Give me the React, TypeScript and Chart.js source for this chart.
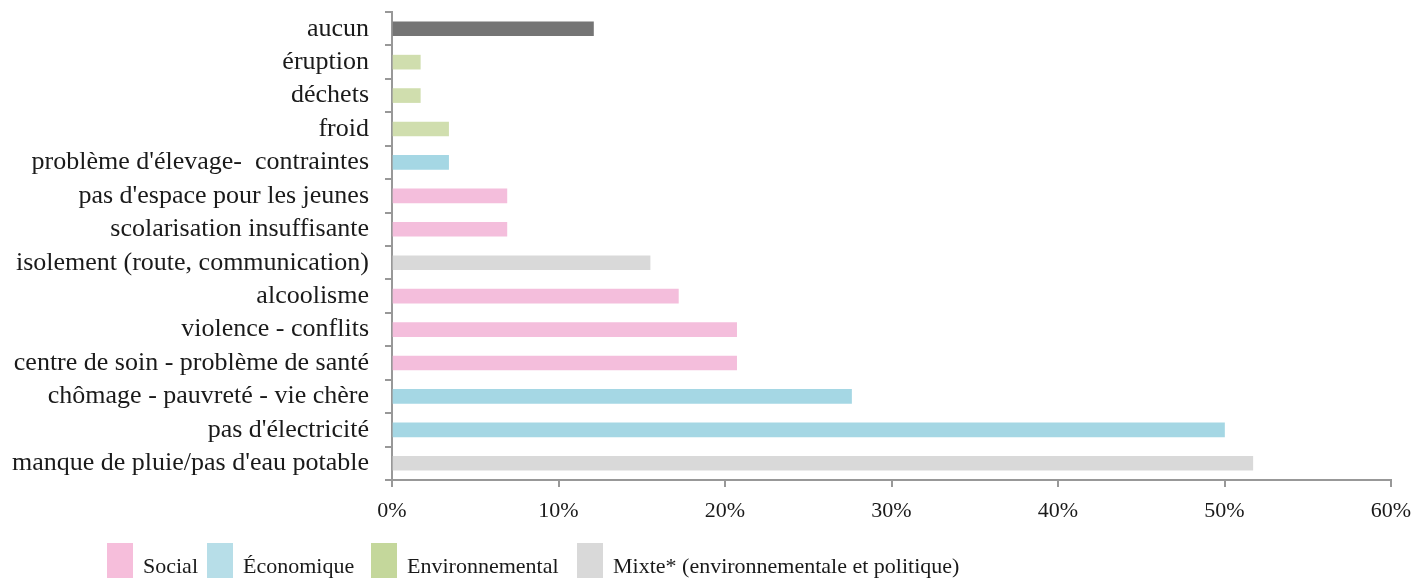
import React, { useEffect, useRef } from "react";
import { Chart, registerables } from "chart.js";

Chart.register(...registerables);

const categories = [
  "aucun",
  "éruption",
  "déchets",
  "froid",
  "problème d'élevage-  contraintes",
  "pas d'espace pour les jeunes",
  "scolarisation insuffisante",
  "isolement (route, communication)",
  "alcoolisme",
  "violence - conflits",
  "centre de soin - problème de santé",
  "chômage - pauvreté - vie chère",
  "pas d'électricité",
  "manque de pluie/pas d'eau potable",
];
const values = [12.1, 1.7, 1.7, 3.4, 3.4, 6.9, 6.9, 15.5, 17.2, 20.7, 20.7, 27.6, 50.0, 51.7];
const groups = ["none", "env", "env", "env", "eco", "soc", "soc", "mix", "soc", "soc", "soc", "eco", "eco", "mix"];
const xTicks = [0, 10, 20, 30, 40, 50, 60];
const legendLabels = ["Social", "Économique", "Environnemental", "Mixte* (environnementale et politique)"];
const legendKeys = ["soc", "eco", "env", "mix"];

const barColors: Record<string, string> = {
  soc: "#F4BEDC",
  eco: "#A5D7E4",
  env: "#D0DEAE",
  mix: "#D9D9D9",
  none: "#757575",
};
const legendColors: Record<string, string> = {
  soc: "#F6BEDB",
  eco: "#B7DEE8",
  env: "#C4D79B",
  mix: "#D9D9D9",
};

const FONT = "'Liberation Serif', 'DejaVu Serif', serif";
const legendBoxX = [107, 207, 371, 577];

const legendPlugin = {
  id: "customLegend",
  afterDraw(chart: any) {
    const ctx = chart.ctx;
    ctx.save();
    ctx.font = `22px ${FONT}`;
    ctx.textBaseline = "alphabetic";
    legendKeys.forEach((k, i) => {
      const x = legendBoxX[i];
      ctx.fillStyle = legendColors[k];
      ctx.fillRect(x, 543, 26, 40);
      ctx.fillStyle = "#1a1a1a";
      ctx.fillText(legendLabels[i], x + 36, 573);
    });
    ctx.restore();
  },
};

export default function App() {
  const ref = useRef<HTMLCanvasElement | null>(null);
  useEffect(() => {
    document.body.style.margin = "0";
    const chart = new Chart(ref.current!, {
      type: "bar",
      data: {
        labels: categories,
        datasets: [
          {
            data: values,
            backgroundColor: groups.map((g) => barColors[g]),
            barThickness: 14,
          },
        ],
      },
      options: {
        indexAxis: "y",
        animation: false,
        responsive: false,
        maintainAspectRatio: false,
        layout: { padding: { top: 12, right: 24, left: 0, bottom: 0 } },
        plugins: { legend: { display: false }, tooltip: { enabled: false } },
        scales: {
          x: {
            min: 0,
            max: 60,
            afterBuildTicks: (s: any) => {
              s.ticks = xTicks.map((v) => ({ value: v }));
            },
            afterFit: (s: any) => {
              s.height = 98;
              s.paddingLeft = 0;
              s.paddingRight = 0;
            },
            border: { color: "#989898", width: 2 },
            grid: { drawOnChartArea: false, color: "#989898", lineWidth: 2, tickLength: 7 },
            ticks: {
              callback: (v: any) => v + "%",
              color: "#1a1a1a",
              font: { family: FONT, size: 22 },
              padding: 11,
              maxRotation: 0,
            },
          },
          y: {
            afterFit: (s: any) => {
              s.width = 392;
              s.paddingTop = 0;
              s.paddingBottom = 0;
            },
            border: { color: "#989898", width: 2 },
            grid: { drawOnChartArea: false, color: "#989898", lineWidth: 2, tickLength: 7, offset: true },
            ticks: {
              color: "#1a1a1a",
              font: { family: FONT, size: 26 },
              padding: 16,
              autoSkip: false,
            },
          },
        },
      },
      plugins: [legendPlugin],
    });
    return () => chart.destroy();
  }, []);
  return (
    <div style={{ width: 1415, height: 578 }}>
      <canvas ref={ref} width={1415} height={578} style={{ display: "block" }} />
    </div>
  );
}
